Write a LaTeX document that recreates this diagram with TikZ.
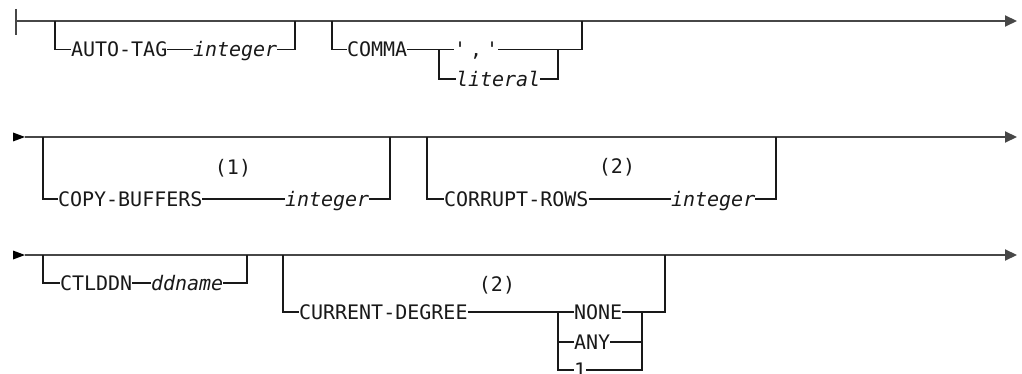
\documentclass[tikz,border=0pt]{standalone}
\usepackage{fontspec}
\setmonofont{DejaVu Sans Mono}
\usetikzlibrary{arrows.meta}
\newcommand{\dgfont}{\ttfamily\fontsize{20}{24}\selectfont}
\begin{document}
\begin{tikzpicture}[x=1pt,y=-1pt,
  main/.style={line width=2pt, draw=black!72},
  br/.style={line width=1.3pt, draw=black!90, line join=miter},
  kw/.style={anchor=west, inner sep=0pt, outer sep=0pt, text height=14.6pt, text depth=0pt, font=\dgfont, text=black!90},
  var/.style={kw, font=\dgfont\itshape},
  note/.style={inner sep=0pt, font=\dgfont, text=black!90},
  endarrow/.style={-{Triangle[length=12pt,width=11pt]}},
  starttri/.style={fill=black}
]
\useasboundingbox (0,0) rectangle (1022,374);

% ---------- Row 1 ----------
\coordinate (r1s) at (16,21);
\coordinate (r1e) at (1017,21);
\coordinate (r1bt) at (16,9);
\coordinate (r1bb) at (16,35);
\draw[main] (r1bt) -- (r1bb);
\draw[main, endarrow] (r1s) -- (r1e);

% AUTO-TAG
\coordinate (at1) at (55,21);
\coordinate (at2) at (55,49.5);
\node[kw] (autotag) at (71,49.5) {AUTO-TAG};
\node[var] (int1) at (193,49.5) {integer};
\coordinate (at3) at (295,49.5);
\coordinate (at4) at (295,21);
\draw[br] (at1) -- (at2) -- (autotag.west);
\draw[br] (autotag.east) -- (int1.west);
\draw[br] (int1.east) -- (at3) -- (at4);

% COMMA
\coordinate (cm1) at (332,21);
\coordinate (cm2) at (332,49.5);
\node[kw] (comma) at (347,49.5) {COMMA};
\coordinate (cj1) at (439,49.5);
\coordinate (cj2) at (439,79);
\node[kw] (quote) at (454,49.5) {'\hspace{4pt},\hspace{4pt}'};
\coordinate (cm3) at (582,49.5);
\coordinate (cm4) at (582,21);
\node[var] (literal) at (456,79) {literal};
\coordinate (cl1) at (558,79);
\coordinate (cl2) at (558,49.5);
\draw[br] (cm1) -- (cm2) -- (comma.west);
\draw[br] (comma.east) -- (cj1) -- (quote.west);
\draw[br] (quote.east) -- (cm3) -- (cm4);
\draw[br] (cj1) -- (cj2) -- (literal.west);
\draw[br] (literal.east) -- (cl1) -- (cl2);

% ---------- Row 2 ----------
\fill[starttri] (13,132.5) -- (25,137) -- (13,141.5) -- cycle;
\coordinate (r2s) at (25,137);
\coordinate (r2e) at (1017,137);
\draw[main, endarrow] (r2s) -- (r2e);

% COPY-BUFFERS
\coordinate (cb1) at (43,137);
\coordinate (cb2) at (43,199);
\node[kw] (copybuf) at (58,199) {COPY-BUFFERS};
\node[var] (int2) at (285,199) {integer};
\coordinate (cb3) at (390,199);
\coordinate (cb4) at (390,137);
\node[note] (note1) at (233,168) {(1)};
\draw[br] (cb1) -- (cb2) -- (copybuf.west);
\draw[br] (copybuf.east) -- (int2.west);
\draw[br] (int2.east) -- (cb3) -- (cb4);

% CORRUPT-ROWS
\coordinate (cr1) at (427,137);
\coordinate (cr2) at (427,199);
\node[kw] (corrupt) at (444,199) {CORRUPT-ROWS};
\node[var] (int3) at (671,199) {integer};
\coordinate (cr3) at (776,199);
\coordinate (cr4) at (776,137);
\node[note] (note2) at (617,167) {(2)};
\draw[br] (cr1) -- (cr2) -- (corrupt.west);
\draw[br] (corrupt.east) -- (int3.west);
\draw[br] (int3.east) -- (cr3) -- (cr4);

% ---------- Row 3 ----------
\fill[starttri] (13,250.5) -- (25,255) -- (13,259.5) -- cycle;
\coordinate (r3s) at (25,255);
\coordinate (r3e) at (1017,255);
\draw[main, endarrow] (r3s) -- (r3e);

% CTLDDN
\coordinate (ct1) at (43,255);
\coordinate (ct2) at (43,283);
\node[kw] (ctlddn) at (60,283) {CTLDDN};
\node[var] (ddname) at (151,283) {ddname};
\coordinate (ct3) at (247,283);
\coordinate (ct4) at (247,255);
\draw[br] (ct1) -- (ct2) -- (ctlddn.west);
\draw[br] (ctlddn.east) -- (ddname.west);
\draw[br] (ddname.east) -- (ct3) -- (ct4);

% CURRENT-DEGREE
\coordinate (cd1) at (283,255);
\coordinate (cd2) at (283,312);
\node[kw] (curdeg) at (299,312) {CURRENT-DEGREE};
\node[note] (note3) at (497,285) {(2)};
\coordinate (dj1) at (558,312);
\coordinate (dj2) at (558,342);
\coordinate (dj3) at (558,370);
\node[kw] (none) at (574,312) {NONE};
\node[kw] (any) at (574,342) {ANY};
\node[kw] (one) at (574,370) {1};
\coordinate (dr1) at (642,312);
\coordinate (dr2) at (642,342);
\coordinate (dr3) at (642,370);
\coordinate (dx1) at (665,312);
\coordinate (dx2) at (665,255);
\draw[br] (cd1) -- (cd2) -- (curdeg.west);
\draw[br] (curdeg.east) -- (dj1) -- (none.west);
\draw[br] (none.east) -- (dr1) -- (dx1) -- (dx2);
\draw[br] (dj1) -- (dj3) -- (one.west);
\draw[br] (dj2) -- (any.west);
\draw[br] (any.east) -- (dr2);
\draw[br] (one.east) -- (dr3) -- (dr1);
\end{tikzpicture}
\end{document}
